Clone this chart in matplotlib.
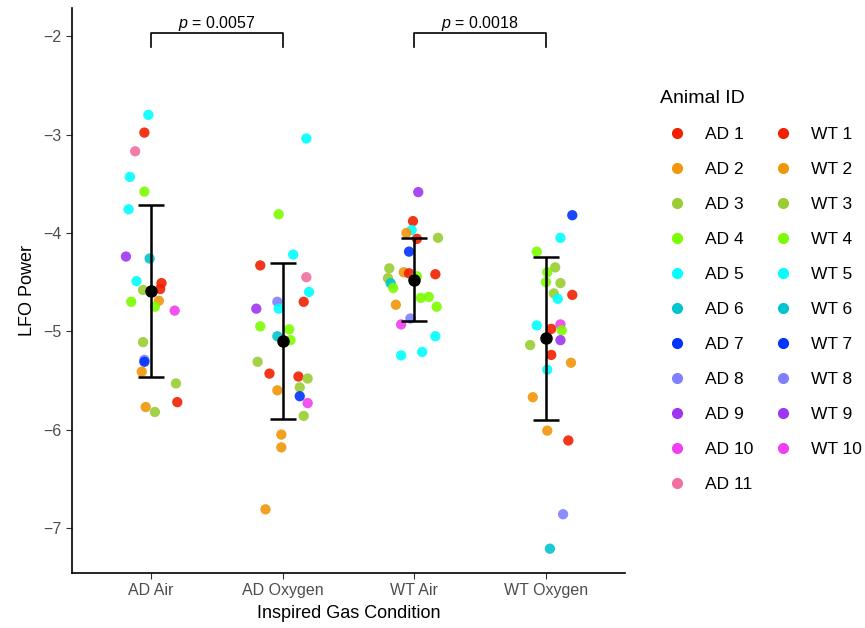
import matplotlib
matplotlib.use("Agg")
import matplotlib.pyplot as plt
from matplotlib.lines import Line2D

plt.rcParams['font.family'] = ['Liberation Sans', 'DejaVu Sans']
plt.rcParams['mathtext.fontset'] = 'custom'
plt.rcParams['mathtext.it'] = 'Liberation Sans:italic'
plt.rcParams['mathtext.rm'] = 'Liberation Sans'

conditions = ["AD Air", "AD Oxygen", "WT Air", "WT Oxygen"]

# animal colours (index 1..11)
animal_colors = ["#F02000", "#F0960A", "#9ACD32", "#7CFC00", "#00FFFF", "#00C5CD",
                 "#0033FF", "#8080FF", "#A035F0", "#F040F0", "#F070A0"]

# LFO power per point, animal number, and the horizontal jitter seen in the picture
ad_air_vals = [-2.80, -2.98, -3.17, -3.43, -3.58, -3.76, -4.24, -4.26, -4.49, -4.51, -4.57, -4.58,
               -4.69, -4.70, -4.75, -4.79, -5.11, -5.29, -5.31, -5.41, -5.53, -5.72, -5.77, -5.82]
ad_air_ids = [5, 1, 11, 5, 4, 5, 9, 6, 5, 1, 1, 3, 2, 4, 4, 10, 3, 8, 7, 2, 3, 1, 2, 3]
ad_air_jit = [-0.02, -0.05, -0.12, -0.16, -0.05, -0.17, -0.19, -0.01, -0.11, 0.08, 0.07, -0.06,
              0.06, -0.15, 0.03, 0.18, -0.06, -0.05, -0.05, -0.07, 0.19, 0.20, -0.04, 0.03]

ad_oxy_vals = [-3.04, -3.81, -4.22, -4.33, -4.45, -4.60, -4.70, -4.70, -4.77, -4.77, -4.95, -4.98, -5.05,
               -5.09, -5.31, -5.43, -5.46, -5.48, -5.57, -5.60, -5.66, -5.73, -5.86, -6.05, -6.18, -6.81]
ad_oxy_ids = [5, 4, 5, 1, 11, 5, 8, 1, 5, 9, 4, 4, 6, 4, 3, 1, 1, 3, 3, 2, 7, 10, 3, 2, 2, 2]
ad_oxy_jit = [0.18, -0.03, 0.08, -0.17, 0.18, 0.20, -0.04, 0.16, -0.03, -0.20, -0.17, 0.05, -0.04,
              0.06, -0.19, -0.10, 0.12, 0.19, 0.13, -0.04, 0.13, 0.19, 0.16, -0.01, -0.01, -0.13]

wt_air_vals = [-3.585, -3.88, -3.97, -4.00, -4.06, -4.05, -4.19, -4.36, -4.40, -4.41, -4.44, -4.42,
               -4.46, -4.51, -4.56, -4.66, -4.65, -4.75, -4.73, -4.87, -4.93, -5.05, -5.21, -5.245]
wt_air_ids = [9, 1, 5, 2, 1, 3, 7, 3, 2, 1, 4, 1, 3, 6, 4, 4, 4, 4, 2, 8, 10, 5, 5, 5]
wt_air_jit = [0.03, -0.01, -0.02, -0.06, 0.02, 0.18, -0.04, -0.19, -0.08, -0.04, 0.02, 0.16,
              -0.20, -0.18, -0.16, 0.05, 0.11, 0.17, -0.14, -0.03, -0.10, 0.16, 0.06, -0.10]

wt_oxy_vals = [-3.82, -4.05, -4.19, -4.35, -4.40, -4.50, -4.51, -4.615, -4.63, -4.67, -4.94, -4.93,
               -4.975, -4.99, -5.14, -5.09, -5.24, -5.32, -5.39, -5.67, -6.01, -6.11, -6.86, -7.21]
wt_oxy_ids = [7, 5, 4, 3, 4, 4, 3, 3, 1, 5, 5, 10, 1, 4, 3, 9, 1, 2, 5, 2, 2, 1, 8, 6]
wt_oxy_jit = [0.20, 0.11, -0.07, 0.07, 0.01, 0.00, 0.11, 0.06, 0.20, 0.09, -0.07, 0.11,
              0.04, 0.12, -0.12, 0.11, 0.04, 0.19, 0.01, -0.10, 0.01, 0.17, 0.13, 0.03]

# mean +/- SD per condition
group_means = [-4.59, -5.10, -4.475, -5.07]
group_sds = [0.87, 0.79, 0.425, 0.83]

# significance brackets
bracket_pairs = [(0, 1), (2, 3)]
bracket_labels = ["0.0057", "0.0018"]
bracket_y = -1.97
bracket_drop = 0.14

groups = [
    (ad_air_vals, ad_air_ids, ad_air_jit),
    (ad_oxy_vals, ad_oxy_ids, ad_oxy_jit),
    (wt_air_vals, wt_air_ids, wt_air_jit),
    (wt_oxy_vals, wt_oxy_ids, wt_oxy_jit),
]

fig = plt.figure(figsize=(8.65, 6.28), dpi=100)
ax = fig.add_axes([0.0832, 0.0876, 0.7225 - 0.0832, 0.987 - 0.0876])

for i, (vals, ids, jit) in enumerate(groups):
    xs = [i + j for j in jit]
    cols = [animal_colors[a - 1] for a in ids]
    ax.scatter(xs, vals, c=cols, s=55, alpha=0.9, linewidths=0, zorder=2)

ax.errorbar(range(len(conditions)), group_means, yerr=group_sds, fmt='o', color='black',
            markersize=8, elinewidth=1.8, capsize=9.5, capthick=1.8, zorder=3)

for (a, b), lab in zip(bracket_pairs, bracket_labels):
    ax.plot([a, a, b, b], [bracket_y - bracket_drop, bracket_y, bracket_y, bracket_y - bracket_drop],
            color='black', lw=1.2, zorder=3, clip_on=False)
    ax.text((a + b) / 2, bracket_y + 0.05, r"$p$ = " + lab, ha='center', va='baseline', fontsize=11.5)

ax.set_xlim(-0.6, 3.6)
ax.set_ylim(-7.457, -1.715)
ax.set_xticks(range(len(conditions)))
ax.set_xticklabels(conditions)
ax.set_yticks([-7, -6, -5, -4, -3, -2])
ax.set_yticklabels(["\u22127", "\u22126", "\u22125", "\u22124", "\u22123", "\u22122"])
ax.tick_params(axis='both', labelsize=11.5, colors='#4D4D4D', length=4, width=0.8)
ax.tick_params(axis='both', color='#333333')
for side in ['top', 'right']:
    ax.spines[side].set_visible(False)
for side in ['left', 'bottom']:
    ax.spines[side].set_linewidth(1.2)
ax.set_xlabel("Inspired Gas Condition", fontsize=13, labelpad=5)
ax.set_ylabel("LFO Power", fontsize=13, labelpad=5)

handles = []
labels = []
for k in range(11):
    handles.append(Line2D([], [], marker='o', ls='', color=animal_colors[k], markersize=7))
    labels.append(f"AD {k + 1}")
for k in range(10):
    handles.append(Line2D([], [], marker='o', ls='', color=animal_colors[k], markersize=7))
    labels.append(f"WT {k + 1}")

leg = fig.legend(handles, labels, title="Animal ID", ncol=2, loc='upper left',
                 bbox_to_anchor=(0.745, 0.881), frameon=False, fontsize=12.5,
                 title_fontsize=14, labelspacing=1.14, handletextpad=0.61,
                 columnspacing=0.67, alignment='left')

fig.savefig("out.png", dpi=100)
